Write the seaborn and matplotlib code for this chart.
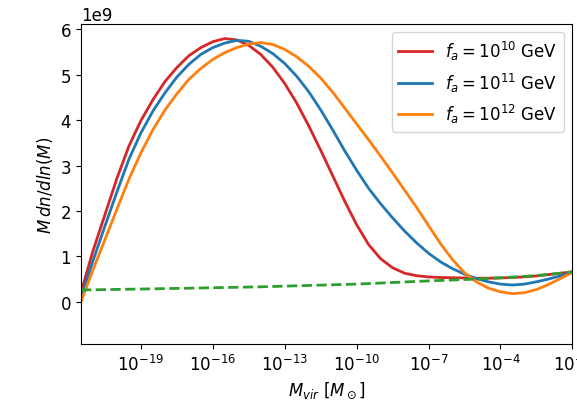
import numpy as np
import pandas as pd
import matplotlib
matplotlib.use("Agg")
import matplotlib.pyplot as plt
import seaborn as sns

# log10 of virial mass grid (M_sun)
log_m = [-21.5, -21, -20.5, -20, -19.5, -19, -18.5, -18, -17.5, -17, -16.5, -16,
         -15.5, -15, -14.5, -14, -13.5, -13, -12.5, -12, -11.5, -11, -10.5, -10,
         -9.5, -9, -8.5, -8, -7.5, -7, -6.5, -6, -5.5, -5, -4.5, -4, -3.5, -3,
         -2.5, -2, -1.5, -1]

# M dn/dlnM in units of 1e9
fa10 = [0.2, 1.12, 1.92, 2.72, 3.43, 3.99, 4.45, 4.85, 5.16, 5.42, 5.60, 5.73,
        5.80, 5.77, 5.65, 5.45, 5.17, 4.81, 4.38, 3.88, 3.34, 2.78, 2.22, 1.70,
        1.26, 0.95, 0.75, 0.63, 0.575, 0.548, 0.535, 0.53, 0.525, 0.52, 0.52, 0.525,
        0.535, 0.55, 0.57, 0.60, 0.63, 0.66]
fa11 = [0.1, 0.9, 1.67, 2.42, 3.14, 3.72, 4.20, 4.60, 4.95, 5.23, 5.45, 5.60,
        5.70, 5.76, 5.74, 5.63, 5.47, 5.25, 4.97, 4.63, 4.23, 3.79, 3.33, 2.90,
        2.50, 2.16, 1.85, 1.56, 1.30, 1.07, 0.88, 0.73, 0.61, 0.51, 0.44, 0.39,
        0.37, 0.39, 0.44, 0.50, 0.57, 0.65]
fa12 = [0.0, 0.7, 1.37, 2.04, 2.70, 3.28, 3.79, 4.22, 4.58, 4.90, 5.14, 5.34,
        5.49, 5.60, 5.68, 5.71, 5.67, 5.56, 5.40, 5.19, 4.93, 4.62, 4.27, 3.92,
        3.57, 3.21, 2.84, 2.46, 2.08, 1.68, 1.28, 0.93, 0.64, 0.44, 0.30, 0.22,
        0.18, 0.20, 0.27, 0.38, 0.51, 0.65]

log_m_ref = [-21.5, -18, -14, -10, -7, -5, -3, -2, -1]
ref = [0.26, 0.29, 0.33, 0.39, 0.46, 0.50, 0.56, 0.60, 0.66]

labels = [r'$f_a = 10^{10}$ GeV', r'$f_a = 10^{11}$ GeV', r'$f_a = 10^{12}$ GeV']
colors = ['#d62728', '#1f77b4', '#ff7f0e']
series = [fa10, fa11, fa12]

fig = plt.figure(figsize=(5.77, 4.10), dpi=100)
ax = fig.add_axes([0.1399, 0.1585, 0.852, 0.7805])

M = 10.0 ** np.array(log_m)
for vals, lab, col in zip(series, labels, colors):
    df = pd.DataFrame({'M': M, 'y': np.array(vals) * 1e9})
    sns.lineplot(data=df, x='M', y='y', ax=ax, color=col, lw=2, label=lab, sort=False)

dfr = pd.DataFrame({'M': 10.0 ** np.array(log_m_ref), 'y': np.array(ref) * 1e9})
sns.lineplot(data=dfr, x='M', y='y', ax=ax, color='#2ca02c', lw=2, ls='--',
             legend=False, sort=False)

ax.set_xscale('log')
ax.set_xlim(10 ** -21.51, 10 ** -1)
ax.set_ylim(-0.93e9, 6.12e9)
ax.set_xticks([10.0 ** k for k in range(-19, 0, 3)])
ax.xaxis.set_minor_locator(matplotlib.ticker.NullLocator())
ax.tick_params(labelsize=12)
ax.yaxis.get_offset_text().set_fontsize(12)
ax.set_xlabel(r'$M_{vir}\ [M_\odot]$', fontsize=12)
ax.set_ylabel(r'$M\, dn/dln(M)$', fontsize=12)
ax.legend(loc='upper right', fontsize=12)

fig.savefig('out.png', dpi=100)
